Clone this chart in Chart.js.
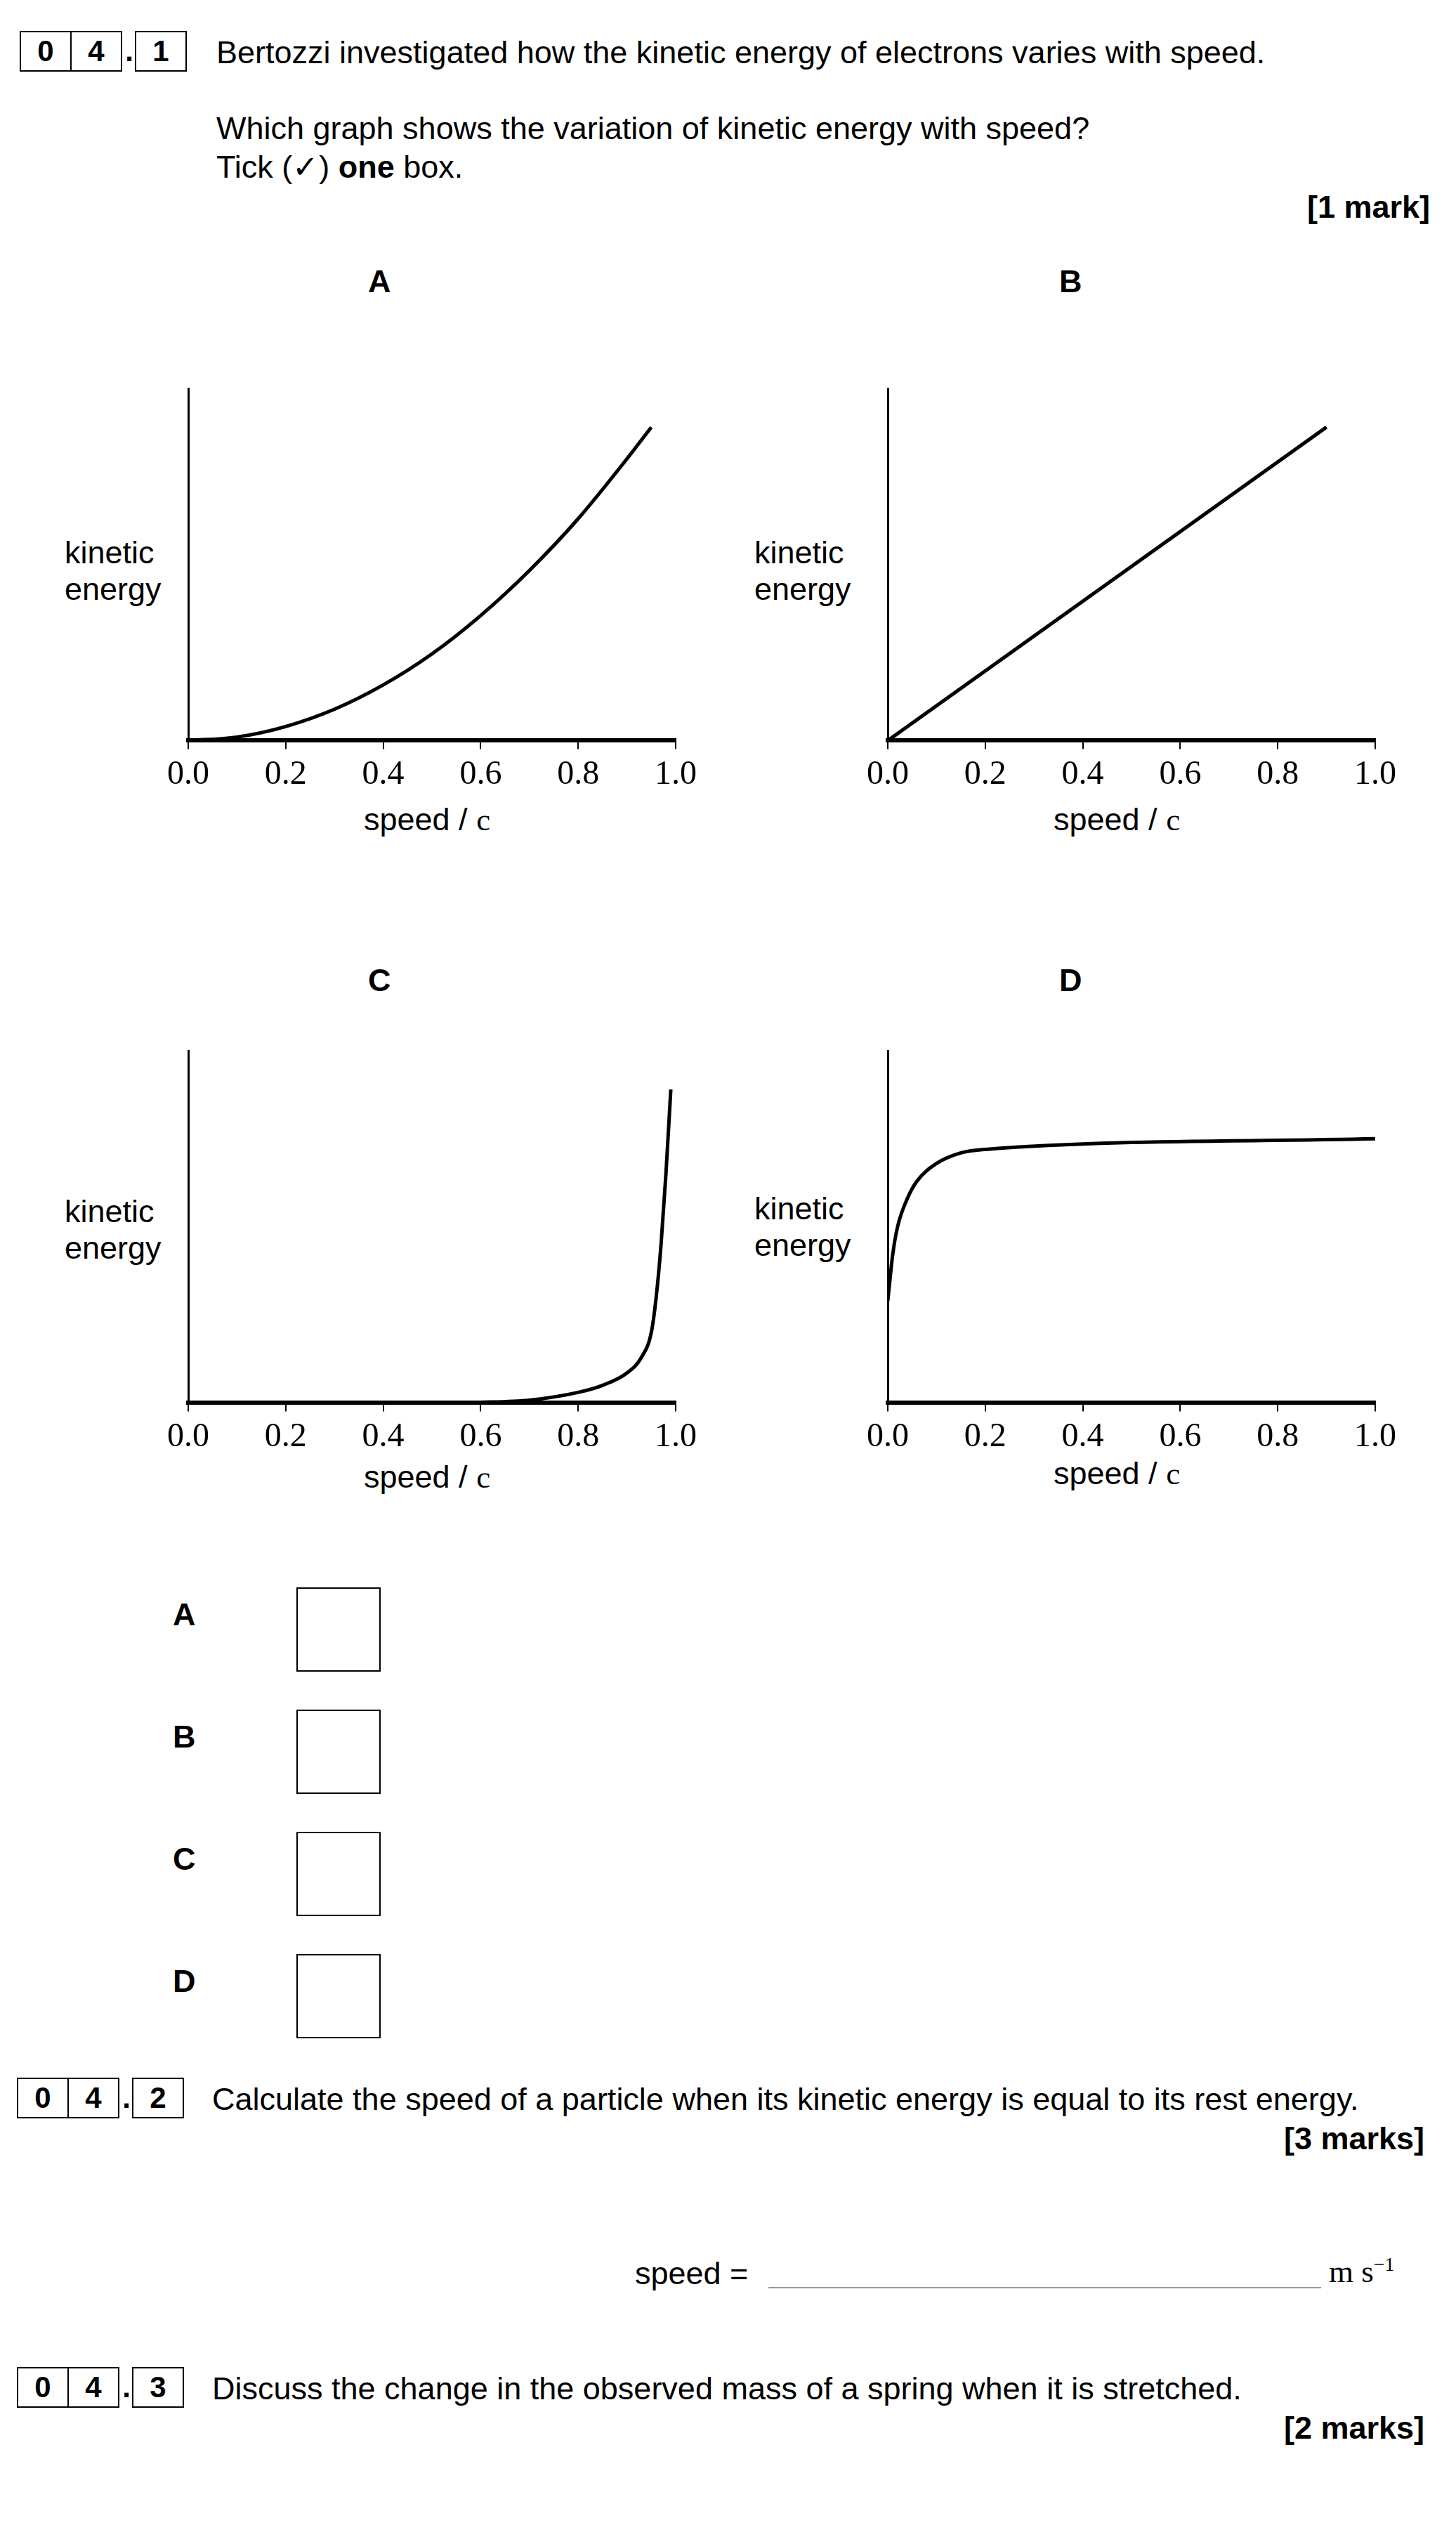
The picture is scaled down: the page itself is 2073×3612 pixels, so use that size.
<!DOCTYPE html>
<html>
<head>
<meta charset="utf-8">
<script src="https://cdn.jsdelivr.net/npm/chart.js@4/dist/chart.umd.min.js"></script>
<style>
  body { margin: 0; width: 2073px; height: 3612px; background: #fff; font-family: "Liberation Sans", Arial, sans-serif; color: #000; position: relative; }
  .t { position: absolute; font-size: 45px; white-space: nowrap; line-height: 1; }
  .b { font-weight: bold; }
  .qn { position: absolute; display: flex; align-items: center; font-weight: bold; font-size: 42px; }
  .qn span { border: 2px solid #000; width: 70px; height: 54px; display: inline-flex; align-items: center; justify-content: center; margin-left: -2px; }
  .qn i { font-style: normal; width: 20px; text-align: center; }
  .cv { position: absolute; }
  .box { position: absolute; width: 116px; height: 116px; border: 2px solid #000; }
  .serif { font-family: "Liberation Serif", "Times New Roman", serif; }
</style>
</head>
<body>
<div class="qn" style="left:30px;top:44px"><span>0</span><span>4</span><i>.</i><span>1</span></div>
<div class="t" style="left:308px;top:52px">Bertozzi investigated how the kinetic energy of electrons varies with speed.</div>
<div class="t" style="left:308px;top:160px">Which graph shows the variation of kinetic energy with speed?</div>
<div class="t" style="left:308px;top:215px">Tick (✓) <b>one</b> box.</div>
<div class="t b" style="right:37px;top:272px">[1 mark]</div>

<div class="t b" style="left:524px;top:378px">A</div>
<div class="t b" style="left:1508px;top:378px">B</div>
<div class="t b" style="left:524px;top:1373px">C</div>
<div class="t b" style="left:1508px;top:1373px">D</div>

<div class="t" style="left:92px;top:764px">kinetic</div>
<div class="t" style="left:92px;top:816px">energy</div>
<div class="t" style="left:1074px;top:764px">kinetic</div>
<div class="t" style="left:1074px;top:816px">energy</div>
<div class="t" style="left:92px;top:1702px">kinetic</div>
<div class="t" style="left:92px;top:1754px">energy</div>
<div class="t" style="left:1074px;top:1698px">kinetic</div>
<div class="t" style="left:1074px;top:1750px">energy</div>

<div class="t" style="left:518px;top:1144px">speed / <span class="serif">c</span></div>
<div class="t" style="left:1500px;top:1144px">speed / <span class="serif">c</span></div>
<div class="t" style="left:518px;top:2080px">speed / <span class="serif">c</span></div>
<div class="t" style="left:1500px;top:2075px">speed / <span class="serif">c</span></div>

<canvas class="cv" id="cA" style="left:230px;top:520px" width="800" height="620"></canvas>
<canvas class="cv" id="cB" style="left:1226px;top:520px" width="800" height="620"></canvas>
<canvas class="cv" id="cC" style="left:230px;top:1463px" width="800" height="620"></canvas>
<canvas class="cv" id="cD" style="left:1226px;top:1463px" width="800" height="620"></canvas>

<div class="t b" style="left:246px;top:2276px">A</div><div class="box" style="left:422px;top:2260px"></div>
<div class="t b" style="left:246px;top:2450px">B</div><div class="box" style="left:422px;top:2434px"></div>
<div class="t b" style="left:246px;top:2624px">C</div><div class="box" style="left:422px;top:2608px"></div>
<div class="t b" style="left:246px;top:2798px">D</div><div class="box" style="left:422px;top:2782px"></div>

<div class="qn" style="left:26px;top:2958px"><span>0</span><span>4</span><i>.</i><span>2</span></div>
<div class="t" style="left:302px;top:2966px">Calculate the speed of a particle when its kinetic energy is equal to its rest energy.</div>
<div class="t b" style="right:45px;top:3022px">[3 marks]</div>
<div class="t" style="left:904px;top:3214px">speed = </div>
<div style="position:absolute;left:1094px;top:3256px;width:787px;border-top:2px solid #999"></div>
<div class="t serif" style="left:1892px;top:3210px">m s<sup style="font-size:28px">−1</sup></div>

<div class="qn" style="left:26px;top:3370px"><span>0</span><span>4</span><i>.</i><span>3</span></div>
<div class="t" style="left:302px;top:3378px">Discuss the change in the observed mass of a spring when it is stretched.</div>
<div class="t b" style="right:45px;top:3434px">[2 marks]</div>

<script>
const speedA = [0, 0.1, 0.2, 0.3, 0.4, 0.5, 0.6, 0.7, 0.8, 0.9, 0.95];
const energyA = [0, 0.01, 0.04, 0.089, 0.158, 0.246, 0.355, 0.483, 0.63, 0.8, 0.89];
const speedB = [0, 0.9];
const energyB = [0, 0.89];
const speedC = [0, 0.5, 0.6, 0.7, 0.8, 0.85, 0.9, 0.93, 0.95, 0.96, 0.97, 0.98, 0.99];
const energyC = [0, 0, 0.002, 0.008, 0.03, 0.05, 0.085, 0.13, 0.2, 0.3, 0.45, 0.65, 0.89];
const speedD = [0, 0.01, 0.02, 0.04, 0.06, 0.1, 0.15, 0.2, 1.0];
const energyD = [0.29, 0.42, 0.5, 0.58, 0.63, 0.68, 0.71, 0.72, 0.75];
const tickStep = 0.2;

function makeChart(id, xs, ys, smooth) {
  new Chart(document.getElementById(id), {
    type: 'line',
    data: {
      datasets: [{
        data: xs.map((x, i) => ({ x: x, y: ys[i] })),
        borderColor: '#000',
        borderWidth: 5,
        pointRadius: 0,
        cubicInterpolationMode: smooth ? 'monotone' : 'default',
        tension: 0,
      }],
    },
    options: {
      responsive: false,
      animation: false,
      layout: { padding: { left: 30, top: 33, right: 68, bottom: 0 } },
      plugins: { legend: { display: false }, tooltip: { enabled: false } },
      scales: {
        x: {
          type: 'linear', min: 0, max: 1,
          ticks: { stepSize: tickStep, color: '#000', padding: 8, maxRotation: 0,
            font: { family: 'Liberation Serif', size: 48 },
            callback: v => v.toFixed(1) },
          grid: { drawOnChartArea: false, tickLength: 12, color: '#000', lineWidth: 2 },
          border: { color: '#000', width: 6 },
        },
        y: {
          min: 0, max: 1,
          ticks: { display: false },
          grid: { display: false },
          border: { color: '#000', width: 3 },
        },
      },
    },
  });
}

makeChart('cA', speedA, energyA, true);
makeChart('cB', speedB, energyB, false);
makeChart('cC', speedC, energyC, true);
makeChart('cD', speedD, energyD, true);
</script>
</body>
</html>
